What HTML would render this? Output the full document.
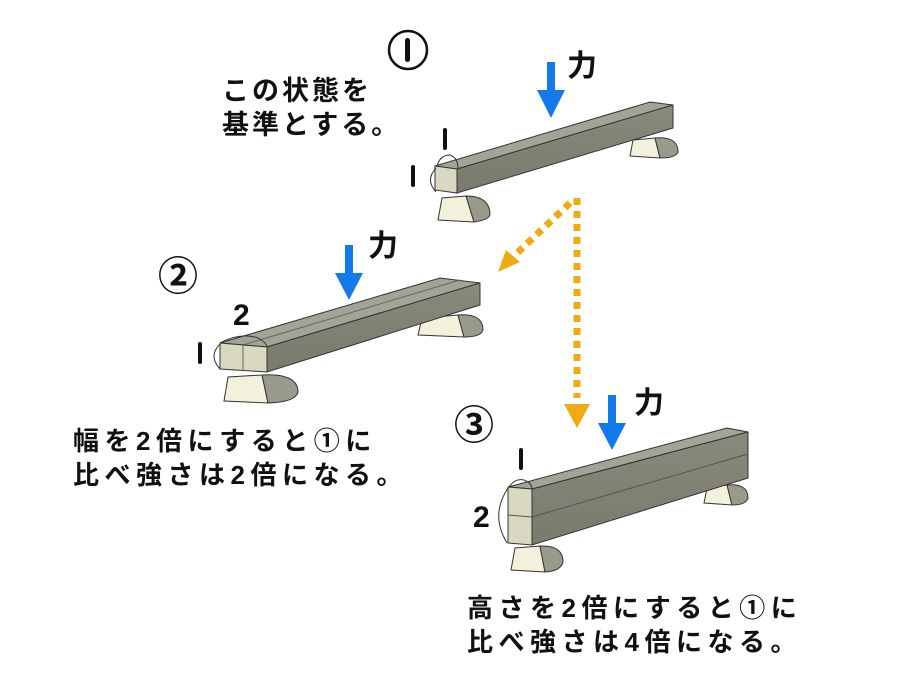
<!DOCTYPE html>
<html><head><meta charset="utf-8"><style>
body{margin:0;background:#fff;}
svg{display:block}
.t{font-family:"Liberation Sans","Noto Sans CJK JP",sans-serif;font-weight:bold;fill:#111;}
</style></head><body>
<svg width="900" height="700" viewBox="0 0 900 700" xmlns="http://www.w3.org/2000/svg">
<defs>
<linearGradient id="side" x1="0" y1="0" x2="0" y2="1"><stop offset="0" stop-color="#8a8a7c"/><stop offset="1" stop-color="#7a7a6c"/></linearGradient>
</defs>
<rect width="900" height="700" fill="#fff"/>

<!-- Beam 1 -->
<g stroke="#333" stroke-width="1">
<path d="M630,156 L633,140 L655,138 L660,158 Z" fill="#f3f1dc"/>
<path d="M655,138 Q678,136 678,152 Q676,158 660,158 Z" fill="#9a9a8c"/>
<path d="M438,220 L442,198 L466,196 L474,222 Z" fill="#f3f1dc"/>
<path d="M466,196 Q490,196 490,215 Q488,220 474,222 Z" fill="#9a9a8c"/>
<polygon points="435,166 457,169 673,105 650,102" fill="#a4a496"/>
<polygon points="457,169 673,105 673,128 457,193" fill="url(#side)"/>
<polygon points="435,166 457,169 457,193 435,190" fill="#d9d8c0"/>
</g>
<path d="M437,166 Q440,155 450,155 Q458,158 458,168" fill="none" stroke="#333"/>
<path d="M436,168 Q425,180 436,192" fill="none" stroke="#333"/>
<rect x="443" y="128" width="4" height="22" rx="2" fill="#111"/>
<rect x="411" y="165" width="4" height="22" rx="2" fill="#111"/>

<!-- Beam 2 -->
<g stroke="#333" stroke-width="1">
<path d="M418,335 L422,318 L458,315 L464,337 Z" fill="#f3f1dc"/>
<path d="M458,315 Q483,313 483,330 Q481,337 464,337 Z" fill="#9a9a8c"/>
<path d="M224,401 L228,377 L262,375 L268,403 Z" fill="#f3f1dc"/>
<path d="M262,375 Q298,373 298,392 Q296,402 268,403 Z" fill="#9a9a8c"/>
<polygon points="220,343 267,347 480,283 440,278" fill="#a4a496"/>
<line x1="243" y1="345" x2="460" y2="280" stroke="#666"/>
<polygon points="267,347 480,283 480,305 267,372" fill="url(#side)"/>
<polygon points="220,343 267,347 267,372 220,369" fill="#d9d8c0"/>
<line x1="243" y1="345" x2="243" y2="371" stroke="#666"/>
</g>
<path d="M220,343 Q240,332 258,338 Q267,343 267,347" fill="none" stroke="#333"/>
<path d="M220,344 Q208,356 220,369" fill="none" stroke="#333"/>
<text class="t" x="233" y="325" font-size="30">2</text>
<rect x="198" y="342" width="4" height="22" rx="2" fill="#111"/>

<!-- Beam 3 -->
<g stroke="#333" stroke-width="1">
<path d="M704,503 L707,488 L727,485 L732,505 Z" fill="#f3f1dc"/>
<path d="M727,485 Q748,483 748,498 Q746,505 732,505 Z" fill="#9a9a8c"/>
<path d="M511,570 L515,548 L540,546 L545,572 Z" fill="#f3f1dc"/>
<path d="M540,546 Q563,545 563,562 Q561,571 545,572 Z" fill="#9a9a8c"/>
<polygon points="508,487 532,489 748,432 727,428" fill="#a4a496"/>
<polygon points="532,489 748,432 748,478 532,545" fill="url(#side)"/>
<line x1="532" y1="517" x2="748" y2="454" stroke="#555"/>
<polygon points="508,487 532,489 532,545 508,543" fill="#d9d8c0"/>
<line x1="508" y1="515" x2="532" y2="517" stroke="#555"/>
</g>
<path d="M509,487 Q515,478 524,480 Q532,483 532,489" fill="none" stroke="#333"/>
<path d="M508,488 Q490,515 507,543" fill="none" stroke="#333"/>
<rect x="519" y="448" width="4" height="22" rx="2" fill="#111"/>
<text class="t" x="473" y="527" font-size="30">2</text>

<!-- Blue arrows -->
<g fill="#1479ea">
<rect x="547" y="62" width="8" height="30"/><polygon points="537,90 565,90 551,118"/>
<rect x="345" y="245" width="8" height="30"/><polygon points="335,273 363,273 349,300"/>
<rect x="608" y="395" width="8" height="30"/><polygon points="598,423 626,423 612,450"/>
</g>
<text class="t" x="567" y="76" font-size="30">力</text>
<text class="t" x="368" y="256" font-size="30">力</text>
<text class="t" x="634" y="413" font-size="30">力</text>

<!-- Orange dotted arrows -->
<g stroke="#f0aa14" stroke-width="7" fill="none" stroke-dasharray="7 6">
<line x1="577" y1="198" x2="577" y2="398"/>
<line x1="570" y1="203" x2="515" y2="255"/>
</g>
<polygon points="564,404 590,404 577,428" fill="#f0aa14"/>
<polygon points="498,272 506,250 520,262" fill="#f0aa14"/>

<!-- Circled numbers -->
<circle cx="408" cy="50" r="19" fill="none" stroke="#111" stroke-width="2.5"/>
<rect x="405" y="38" width="5" height="24" rx="2.5" fill="#111"/>
<text class="t" x="158" y="290" font-size="40">②</text>
<text class="t" x="454" y="439" font-size="40">③</text>

<!-- Texts -->
<text class="t" x="222" y="100" font-size="27" letter-spacing="3">この状態を</text>
<text class="t" x="222" y="134" font-size="27" letter-spacing="3">基準とする。</text>
<text class="t" x="73" y="450" font-size="26" letter-spacing="5.5">幅を2倍にすると①に</text>
<text class="t" x="73" y="484" font-size="26" letter-spacing="5.5">比べ強さは2倍になる。</text>
<text class="t" x="467" y="617" font-size="26" letter-spacing="5.5">高さを2倍にすると①に</text>
<text class="t" x="467" y="651" font-size="26" letter-spacing="5.5">比べ強さは4倍になる。</text>
</svg>
</body></html>
